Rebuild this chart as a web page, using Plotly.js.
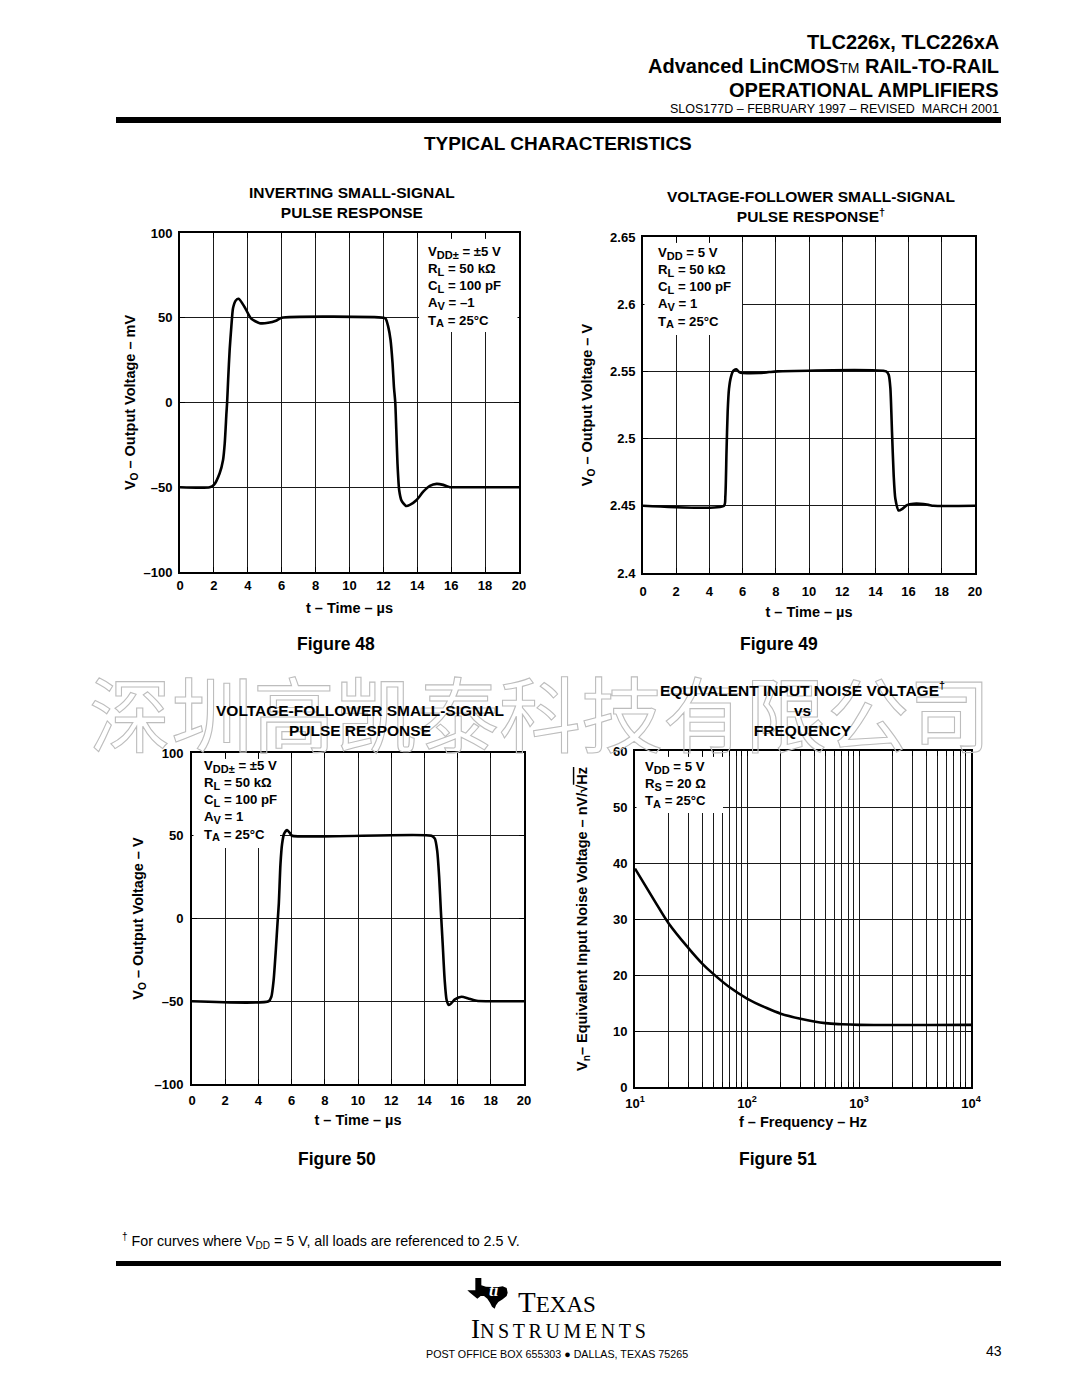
<!DOCTYPE html>
<html><head><meta charset="utf-8">
<script src="https://cdn.plot.ly/plotly-3.0.1.min.js"></script>
<style>html,body{margin:0;padding:0;background:#fff}#chart{width:1080px;height:1398px}</style>
</head><body><div id="chart"></div>
<script>
// ---------- data ----------
const timeTicks = [0,2,4,6,8,10,12,14,16,18,20];
const timeTickText = ['0','2','4','6','8','10','12','14','16','18','20'];

// Figure 48: inverting small-signal pulse response (t in us, Vo in mV)
const fig48_t = [0,1.75,2.0,2.34,2.54,2.64,2.74,2.78,2.84,2.93,3.03,3.13,3.29,3.46,3.8,4.2,4.7,5.2,5.7,6.0,12.0,12.14,12.28,12.42,12.54,12.62,12.7,12.76,12.83,12.93,13.07,13.33,13.56,13.96,14.35,14.74,15.14,15.53,15.93,16.0,20];
const fig48_v = [-50,-50,-48.6,-41.7,-33.9,-24,-6.3,0,13.4,31.1,44.9,55.7,60.2,61.2,56.5,49.5,46.8,47,48.4,50,50,49.4,44.9,37,23.2,9.4,0,-16,-35.8,-51.6,-57.9,-61,-60.4,-57.5,-52.6,-49.2,-48,-48.6,-50,-50,-50];
const fig48_yTicks = [-100,-50,0,50,100];
const fig48_yText = ['–100','–50','0','50','100'];

// Figure 49: voltage-follower small-signal pulse response (Vo in V)
const fig49_t = [0,4.88,4.96,5.03,5.1,5.18,5.3,5.45,5.62,5.8,6.0,6.3,7.0,7.6,8.1,14.65,14.8,14.9,15.0,15.1,15.2,15.4,15.6,15.9,16.3,16.7,17.2,17.5,20];
const fig49_v = [2.45,2.45,2.457,2.49,2.52,2.537,2.546,2.5505,2.5515,2.5495,2.5488,2.5487,2.5488,2.5495,2.55,2.55,2.5475,2.538,2.505,2.473,2.4555,2.4465,2.4475,2.4505,2.4515,2.4515,2.4507,2.45,2.45];
const fig49_yTicks = [2.4,2.45,2.5,2.55,2.6,2.65];
const fig49_yText = ['2.4','2.45','2.5','2.55','2.6','2.65'];

// Figure 50: voltage-follower small-signal pulse response (split supply)
const fig50_t = [0,4.62,4.78,4.92,5.05,5.15,5.23,5.33,5.43,5.55,5.73,5.89,6.03,14.43,14.63,14.77,14.89,14.99,15.1,15.22,15.34,15.48,15.64,15.84,16.24,16.64,17.15,20];
const fig50_v = [-50,-50,-47.3,-37,-19,-3,9,33,45.3,51.3,53.4,51.7,50,50,48.2,41,25,5,-15,-37,-49.3,-52.3,-51,-48.9,-47.3,-48.3,-49.7,-50];
const fig50_yTicks = [-100,-50,0,50,100];
const fig50_yText = ['–100','–50','0','50','100'];

// Figure 51: equivalent input noise voltage vs frequency
const fig51_f = [10,15,20,30,40,50,70,100,150,200,300,500,700,1000,10000];
const fig51_v = [39,33.2,29.2,24.8,22.0,20.2,17.8,15.8,14.1,13.1,12.2,11.4,11.2,11.1,11.1];
const fig51_xTicks = [10,20,30,40,50,60,70,80,90,100,200,300,400,500,600,700,800,900,1000,2000,3000,4000,5000,6000,7000,8000,9000,10000];
const fig51_xText = ['10<sup>1</sup>','','','','','','','','','10<sup>2</sup>','','','','','','','','','10<sup>3</sup>','','','','','','','','','10<sup>4</sup>'];
const fig51_yTicks = [0,10,20,30,40,50,60];
const fig51_yText = ['0','10','20','30','40','50','60'];

// ---------- layout helpers ----------
const W = 1080, H = 1398;
const PX = x => x / W;
const PY = y => 1 - y / H;
const FONT = 'Liberation Sans, Arial, Helvetica, sans-serif';
const SERIF = 'Liberation Serif, Times New Roman, serif';

function xAxis(left, right, extra) {
  return Object.assign({
    domain: [PX(left), PX(right)], showgrid: true, gridcolor: '#1a1a1a', gridwidth: 1,
    zeroline: false, showline: true, linecolor: '#000', linewidth: 2, mirror: 'ticks',
    ticks: 'inside', ticklen: 5, tickwidth: 1, tickcolor: '#000', tickmode: 'array',
    tickfont: {family: FONT, size: 13, color: '#000', weight: 'bold'}, fixedrange: true
  }, extra);
}
function yAxis(top, bottom, extra) {
  return Object.assign({
    domain: [PY(bottom), PY(top)], showgrid: true, gridcolor: '#1a1a1a', gridwidth: 1,
    zeroline: false, showline: true, linecolor: '#000', linewidth: 2, mirror: 'ticks',
    ticks: 'inside', ticklen: 5, tickwidth: 1, tickcolor: '#000', tickmode: 'array',
    tickfont: {family: FONT, size: 13, color: '#000', weight: 'bold'}, fixedrange: true
  }, extra);
}
const axTitleFont = {family: FONT, size: 14.5, color: '#000', weight: 'bold'};

const line = {color: '#000', width: 2.6, shape: 'spline', smoothing: 0.6};
const traces = [
  {x: fig48_t, y: fig48_v, xaxis: 'x', yaxis: 'y', mode: 'lines', line, hoverinfo: 'skip'},
  {x: fig49_t, y: fig49_v, xaxis: 'x2', yaxis: 'y2', mode: 'lines', line, hoverinfo: 'skip'},
  {x: fig50_t, y: fig50_v, xaxis: 'x3', yaxis: 'y3', mode: 'lines', line, hoverinfo: 'skip'},
  {x: fig51_f, y: fig51_v, xaxis: 'x4', yaxis: 'y4', mode: 'lines', line: {color: '#000', width: 2.6, shape: 'spline', smoothing: 1}, hoverinfo: 'skip'}
];

function rect(x0, y0, x1, y1, color) {
  return {type: 'rect', xref: 'paper', yref: 'paper', x0: PX(x0), x1: PX(x1), y0: PY(y1), y1: PY(y0),
          fillcolor: color, line: {width: 0}, layer: 'above'};
}
function note(x, y, text, opt) {
  return Object.assign({xref: 'paper', yref: 'paper', x: PX(x), y: PY(y), text, showarrow: false,
    xanchor: 'center', yanchor: 'middle', font: {family: FONT, size: 13, color: '#000', weight: 'bold'}}, opt || {});
}

// Texas silhouette for the logo (pixel outline, decorative)
const texasPts = [[46,18],[64,18],[64,40],[78,44],[95,45],[112,46],[128,43],[140,48],[143,62],[140,72],[128,82],[115,90],[108,100],[104,110],[96,104],[90,92],[82,80],[72,72],[62,72],[52,80],[42,72],[30,62],[22,55],[46,55]]
  .map(p => [460 + p[0] / 3, 1272 + p[1] / 3]);
const texasPath = texasPts.map((p, i) => (i ? 'L' : 'M') + PX(p[0]).toFixed(5) + ',' + PY(p[1]).toFixed(5)).join(' ') + ' Z';

const shapes = [
  rect(116, 117, 1001, 123, '#000'),
  rect(116, 1261, 1001, 1266, '#000'),
  // condition boxes inside the plots (hide the grid behind the text)
  rect(419, 239, 517.5, 332, '#fff'),
  rect(644.5, 243, 742, 335, '#fff'),
  rect(193.5, 759, 270, 848, '#fff'),
  rect(270, 833.5, 280, 836.5, '#fff'),
  rect(636.5, 757, 723, 813, '#fff'),
  {type: 'path', xref: 'paper', yref: 'paper', path: texasPath, fillcolor: '#000', line: {width: 0}, layer: 'above'}
];

const small = s => `<span style="font-size:${s}px">`;
const sb = t => `<sub><span style="font-size:11px">${t}</span></sub>`;
const boxFont = {family: FONT, size: 13.2, color: '#000', weight: 'bold'};
const titleFont = {family: FONT, size: 15.5, color: '#000', weight: 'bold'};
const figFont = {family: FONT, size: 17.5, color: '#000', weight: 'bold'};
const annotations = [
  note(540, 710, '深圳高凯泰科技有限公司', {font: {family: 'Noto Sans CJK SC, sans-serif', size: 82, color: '#c8c8c8', weight: 'normal'}}),
  // header
  note(1001, 42, 'TLC226x, TLC226xA', {xanchor: 'right', font: {family: FONT, size: 20, color: '#000', weight: 'bold'}}),
  note(1001, 66, 'Advanced LinCMOS<span style="font-weight:normal;font-size:14px">TM</span> RAIL-TO-RAIL', {xanchor: 'right', font: {family: FONT, size: 20, color: '#000', weight: 'bold'}}),
  note(1001, 90, 'OPERATIONAL AMPLIFIERS', {xanchor: 'right', font: {family: FONT, size: 20, color: '#000', weight: 'bold'}}),
  note(1001, 109, 'SLOS177D – FEBRUARY 1997 – REVISED&nbsp; MARCH 2001', {xanchor: 'right', font: {family: FONT, size: 12.5, color: '#000', weight: 'normal'}}),
  note(558, 144, 'TYPICAL CHARACTERISTICS', {font: {family: FONT, size: 19, color: '#000', weight: 'bold'}}),
  // chart titles
  note(352, 203, 'INVERTING SMALL-SIGNAL<br>PULSE RESPONSE', {font: titleFont}),
  note(811, 206, 'VOLTAGE-FOLLOWER SMALL-SIGNAL<br>PULSE RESPONSE<sup>†</sup>', {font: titleFont}),
  note(360, 721, 'VOLTAGE-FOLLOWER SMALL-SIGNAL<br>PULSE RESPONSE', {font: titleFont}),
  note(802, 709, 'EQUIVALENT INPUT NOISE VOLTAGE<sup>†</sup><br>vs<br>FREQUENCY', {font: titleFont}),
  // condition boxes
  note(426, 242, `V${sb('DD±')} = ±5 V<br>R${sb('L')} = 50 kΩ<br>C${sb('L')} = 100 pF<br>A${sb('V')} = –1<br>T${sb('A')} = 25°C`, {xanchor: 'left', yanchor: 'top', align: 'left', font: boxFont}),
  note(656, 243, `V${sb('DD')} = 5 V<br>R${sb('L')} = 50 kΩ<br>C${sb('L')} = 100 pF<br>A${sb('V')} = 1<br>T${sb('A')} = 25°C`, {xanchor: 'left', yanchor: 'top', align: 'left', font: boxFont}),
  note(202, 756, `V${sb('DD±')} = ±5 V<br>R${sb('L')} = 50 kΩ<br>C${sb('L')} = 100 pF<br>A${sb('V')} = 1<br>T${sb('A')} = 25°C`, {xanchor: 'left', yanchor: 'top', align: 'left', font: boxFont}),
  note(643, 757, `V${sb('DD')} = 5 V<br>R${sb('S')} = 20 Ω<br>T${sb('A')} = 25°C`, {xanchor: 'left', yanchor: 'top', align: 'left', font: boxFont}),
  // figure labels
  note(336, 644, 'Figure 48', {font: figFont}),
  note(779, 644, 'Figure 49', {font: figFont}),
  note(337, 1159, 'Figure 50', {font: figFont}),
  note(778, 1159, 'Figure 51', {font: figFont}),
  // footnote
  note(120, 1241, '<sup>†</sup> For curves where V<sub>DD</sub> = 5 V, all loads are referenced to 2.5 V.', {xanchor: 'left', font: {family: FONT, size: 14.3, color: '#000', weight: 'normal'}}),
  // logo + footer
  note(494, 1290, '<i>ti</i>', {font: {family: SERIF, size: 17, color: '#fff', weight: 'bold'}}),
  note(516, 1302, 'T' + small(23) + 'EXAS</span>', {xanchor: 'left', font: {family: SERIF, size: 29, color: '#000', weight: 'normal'}}),
  note(469, 1329, 'I' + small(20) + '<span style="letter-spacing:3.6px">NSTRUMENTS</span></span>', {xanchor: 'left', font: {family: SERIF, size: 27, color: '#000', weight: 'normal'}}),
  note(557, 1354, 'POST OFFICE BOX 655303 ● DALLAS, TEXAS 75265', {font: {family: FONT, size: 10.7, color: '#000', weight: 'normal'}}),
  note(1004, 1351, '43', {xanchor: 'right', font: {family: FONT, size: 14, color: '#000', weight: 'normal'}})
];

const layout = {
  width: W, height: H, margin: {l: 0, r: 0, t: 0, b: 0}, paper_bgcolor: '#fff', plot_bgcolor: '#fff',
  showlegend: false, font: {family: FONT, color: '#000'},
  xaxis: xAxis(180, 519, {anchor: 'y', range: [0, 20], tickvals: timeTicks, ticktext: timeTickText, ticklabelstandoff: 0,
    title: {text: 't – Time – µs', font: axTitleFont, standoff: 11}}),
  yaxis: yAxis(233, 572, {anchor: 'x', range: [-100, 100], tickvals: fig48_yTicks, ticktext: fig48_yText, ticklabelstandoff: 3,
    title: {text: 'V<sub>O</sub> – Output Voltage – mV', font: axTitleFont, standoff: 4}}),
  xaxis2: xAxis(643, 975, {anchor: 'y2', range: [0, 20], tickvals: timeTicks, ticktext: timeTickText, ticklabelstandoff: 5,
    title: {text: 't – Time – µs', font: axTitleFont, standoff: 9}}),
  yaxis2: yAxis(237, 573, {anchor: 'x2', range: [2.4, 2.65], tickvals: fig49_yTicks, ticktext: fig49_yText, ticklabelstandoff: 3,
    title: {text: 'V<sub>O</sub> – Output Voltage – V', font: axTitleFont, standoff: 14}}),
  xaxis3: xAxis(192, 524, {anchor: 'y3', range: [0, 20], tickvals: timeTicks, ticktext: timeTickText, ticklabelstandoff: 3,
    title: {text: 't – Time – µs', font: axTitleFont, standoff: 8}}),
  yaxis3: yAxis(753, 1084, {anchor: 'x3', range: [-100, 100], tickvals: fig50_yTicks, ticktext: fig50_yText, ticklabelstandoff: 4,
    title: {text: 'V<sub>O</sub> – Output Voltage – V', font: axTitleFont, standoff: 7}}),
  xaxis4: xAxis(635, 971, {anchor: 'y4', type: 'log', range: [1, 4], tickvals: fig51_xTicks, ticktext: fig51_xText, ticklabelstandoff: 3,
    title: {text: 'f – Frequency – Hz', font: axTitleFont, standoff: 7}}),
  yaxis4: yAxis(751, 1087, {anchor: 'x4', range: [0, 60], tickvals: fig51_yTicks, ticktext: fig51_yText, ticklabelstandoff: 3,
    title: {text: 'V<sub>n</sub>– Equivalent Input Noise Voltage – nV/√<span style="text-decoration:overline">Hz</span>', font: axTitleFont, standoff: 22}}),
  shapes, annotations
};

Plotly.newPlot('chart', traces, layout, {staticPlot: true, displayModeBar: false}).then(() => {
  document.querySelectorAll('.annotation-text').forEach(t => {
    if (t.textContent.indexOf('深圳') >= 0) {
      t.style.fill = 'none';
      t.style.stroke = '#bdbdbd';
      t.style.strokeWidth = '1.1px';
    }
  });
});
</script></body></html>
